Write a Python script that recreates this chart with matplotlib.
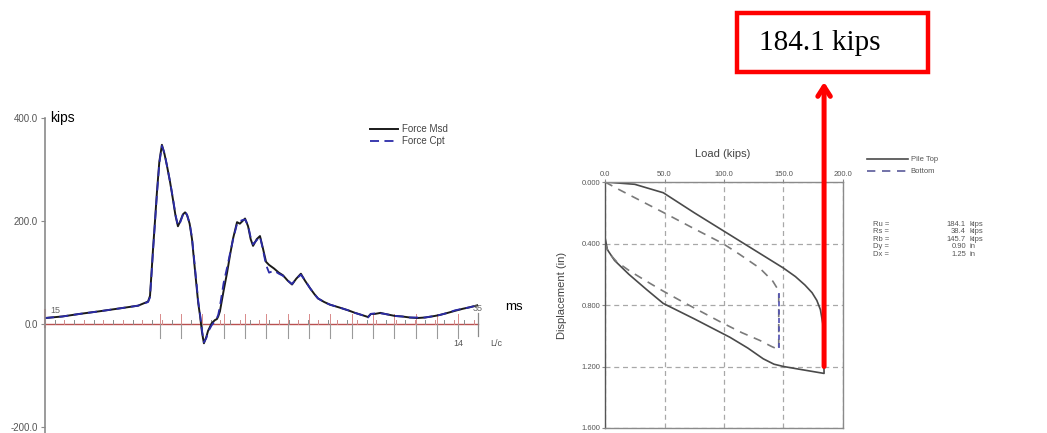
import matplotlib
matplotlib.use('Agg')
import matplotlib.pyplot as plt
from matplotlib.patches import Rectangle

W, H = 1047, 433

# --- force record (left) ---
time_ms = [15.0, 15.8, 16.6, 17.5, 18.5, 19.3, 19.76, 19.85, 19.92, 19.99, 20.08, 20.17,
           20.28, 20.40, 20.52, 20.64, 20.78, 20.91, 21.03, 21.14, 21.25, 21.37, 21.47, 21.56,
           21.68, 21.79, 21.95, 22.08, 22.16, 22.25, 22.34, 22.45, 22.53, 22.7, 22.85, 22.94,
           23.0, 23.08, 23.25, 23.41, 23.55, 23.68, 23.87, 24.0, 24.12, 24.24, 24.38, 24.5,
           24.61, 24.78, 24.93, 25.05, 25.21, 25.35, 25.58, 25.8, 25.99, 26.2, 26.41, 26.6,
           26.82, 27.0, 27.24, 27.45, 27.61, 27.9, 28.16, 28.63, 29.0, 29.32, 29.7, 29.92,
           30.05, 30.24, 30.5, 30.7, 31.17, 31.5, 31.86, 32.2, 32.55, 33.0, 33.24, 33.6,
           33.94, 34.3, 34.63, 35.0]
force_msd = [12, 15, 20, 25, 31, 36, 44, 55, 100, 146, 200, 256,
             315, 348, 330, 306, 275, 242, 210, 190, 200, 213, 217, 212,
             195, 165, 95, 40, 17, -15, -37, -25, -13, 2, 8, 10,
             15, 25, 65, 100, 135, 165, 198, 195, 200, 205, 190, 165,
             152, 165, 171, 150, 121, 115, 108, 100, 95, 85, 77, 88,
             98, 85, 70, 58, 50, 43, 38, 32, 27, 22, 17, 14,
             20, 20, 22, 20, 16, 15, 13, 12, 13, 16, 18, 22,
             26, 30, 33, 37]
force_cpt = [12, 15, 20, 25, 31, 36, 43, 52, 96, 142, 197, 252,
             312, 346, 332, 306, 276, 244, 212, 191, 198, 212, 219, 212,
             196, 168, 100, 44, 20, -12, -35, -27, -15, -2, 6, 12,
             18, 35, 80, 110, 138, 163, 195, 200, 202, 203, 192, 168,
             155, 163, 170, 148, 115, 100, 104, 98, 94, 85, 78, 88,
             96, 86, 70, 58, 50, 43, 38, 32, 27, 22, 17, 13,
             20, 21, 21, 20, 16, 15, 13, 13, 13, 16, 18, 22,
             27, 30, 33, 37]
impact_ms = 20.3      # first 2L/c mark
lc_ms = 0.985         # 2L/c spacing
n_lc = 14

# --- load / displacement (right) ---
top_load = [0, 25, 49, 75, 100, 125, 150, 160, 168, 174, 178, 181, 183, 183.6, 184.1,
            165, 150, 142, 133, 120, 105, 75, 49, 35, 20, 8, 2, 0]
top_disp = [0.0, 0.015, 0.07, 0.20, 0.32, 0.44, 0.56, 0.615, 0.67, 0.72, 0.77, 0.83, 0.92, 1.05, 1.245,
            1.22, 1.20, 1.185, 1.15, 1.08, 1.01, 0.89, 0.79, 0.70, 0.60, 0.51, 0.44, 0.36]
bot_load = [0, 12, 32, 52, 74, 99, 113, 130, 141, 144.6, 146, 146,
            140, 130, 115, 97, 80, 63, 49, 38, 21, 10, 3, 0, 0]
bot_disp = [0.0, 0.05, 0.13, 0.21, 0.30, 0.40, 0.47, 0.56, 0.645, 0.69, 0.72, 1.09,
            1.07, 1.03, 0.98, 0.91, 0.84, 0.77, 0.71, 0.66, 0.58, 0.52, 0.46, 0.40, 0.32]

ru_kips = 184.1
res_names = ['Ru =', 'Rs =', 'Rb =', 'Dy =', 'Dx =']
res_values = ['184.1', '38.4', '145.7', '0.90', '1.25']
res_units = ['kips', 'kips', 'kips', 'in', 'in']

plt.rcParams['font.family'] = ['Liberation Sans', 'DejaVu Sans']

def fx(px):
    return px / W

def fy(py):
    return 1 - py / H

fig = plt.figure(figsize=(W / 100, H / 100), dpi=100)

# ---------------- left: force vs time ----------------
ax1 = fig.add_axes([fx(45), 0, fx(478) - fx(45), fy(118)])
ax1.set_xlim(15, 35)
ax1.set_ylim(-211, 400)
for s in ['top', 'right', 'bottom']:
    ax1.spines[s].set_visible(False)
ax1.spines['left'].set_color('#8a8a8a')
ax1.spines['left'].set_linewidth(1.2)
ax1.set_xticks([])
ax1.set_yticks([400, 200, 0, -200])
ax1.set_yticklabels(['400.0', '200.0', '0.0', '-200.0'])
ax1.tick_params(axis='y', length=3, color='#8a8a8a', labelsize=7, labelcolor='#555555', pad=2)

# zero line and 2L/c marks
ax1.plot([15, 35], [0, 0], color='#b85050', lw=1.0, clip_on=False)
ax1.plot([15, 15], [-6, 28], color='#e89a9a', lw=1.5, clip_on=False)
t = 15.0
k = 0
while t < 35:
    ax1.plot([t, t], [0, 9], color='#d08a8a' if k % 2 == 0 else '#8a8a8a', lw=0.7)
    t += 0.45
    k += 1
for i in range(n_lc + 1):
    tx = impact_ms + i * lc_ms
    ax1.plot([tx, tx], [0, 20], color='#d88a8a', lw=0.7)
    ax1.plot([tx, tx], [0, -27], color='#9a9a9a', lw=0.8)
ax1.plot([35, 35], [-23, 21], color='#8a8a8a', lw=0.9, clip_on=False)

ax1.plot(time_ms, force_msd, color='#1a1a1a', lw=1.4, label='Force Msd')
ax1.plot(time_ms, force_cpt, color='#2b2ba8', lw=1.3, ls=(0, (5, 3)), label='Force Cpt')

ax1.text(15.25, 400, 'kips', fontsize=10, va='center', ha='left')
ax1.text(15.25, 27, '15', fontsize=6.5, color='#666666', va='center', ha='left')
ax1.text(35.0, 31, '35', fontsize=6.5, color='#666666', va='center', ha='center')
ax1.text(36.25, 34, 'ms', fontsize=9.5, va='center', ha='left', clip_on=False)
ax1.text(impact_ms + n_lc * lc_ms, -37, '14', fontsize=6.5, color='#555555', va='center', ha='center')
ax1.text(35.55, -37, 'L/c', fontsize=6.5, color='#555555', va='center', ha='left', clip_on=False)

ax1.legend(loc='upper left', bbox_to_anchor=(fx(370), fy(124)), bbox_transform=fig.transFigure,
           frameon=False, fontsize=7, handlelength=2.9, handletextpad=0.4,
           labelspacing=0.2, borderpad=0, borderaxespad=0, labelcolor='#444444')

# ---------------- right: load vs displacement ----------------
ax2 = fig.add_axes([fx(605), fy(428), fx(843) - fx(605), fy(182) - fy(428)])
ax2.set_xlim(0, 200)
ax2.set_ylim(1.6, 0)
for s in ax2.spines.values():
    s.set_color('#8a8a8a')
    s.set_linewidth(1.0)
ax2.spines['left'].set_color('#555555')
ax2.xaxis.tick_top()
ax2.set_xticks([0, 50, 100, 150, 200])
ax2.set_xticklabels(['0.0', '50.0', '100.0', '150.0', '200.0'])
ax2.set_yticks([0, 0.4, 0.8, 1.2, 1.6])
ax2.set_yticklabels(['0.000', '0.400', '0.800', '1.200', '1.600'])
ax2.tick_params(length=2, color='#8a8a8a', labelsize=5.5, labelcolor='#555555', pad=1)
ax2.grid(True, color='#a8a8a8', lw=0.9, ls=(0, (4, 3)))
ax2.set_xlabel('Load (kips)', fontsize=8, color='#444444')
ax2.xaxis.set_label_position('top')
ax2.xaxis.set_label_coords(0.496, 1.10)
ax2.set_ylabel('Displacement (in)', fontsize=8, color='#444444')
ax2.yaxis.set_label_coords(-0.16, 0.54)

ax2.plot(top_load, top_disp, color='#4a4a4a', lw=1.2, label='Pile Top')
ax2.plot(bot_load, bot_disp, color='#7a7a7a', lw=1.2, ls=(0, (5, 4)), label='Bottom')
ax2.plot(bot_load[10:12], bot_disp[10:12], color='#5050b0', lw=1.2, ls=(0, (3, 2)))
ax2.plot(bot_load[-2:], bot_disp[-2:], color='#5050b0', lw=1.2, ls=(0, (3, 2)))

leg = ax2.legend(loc='upper left', bbox_to_anchor=(fx(867), fy(156)), bbox_transform=fig.transFigure,
                 frameon=False, fontsize=5.5, handlelength=5.4, handletextpad=0.3,
                 labelspacing=0.6, borderpad=0, borderaxespad=0, labelcolor='#555555')
leg.get_lines()[1].set_color('#5a5a9a')

for i in range(len(res_names)):
    yy = fy(224 + i * 7.6)
    fig.text(fx(873), yy, res_names[i], fontsize=5.5, color='#555555', va='center', ha='left')
    fig.text(fx(966), yy, res_values[i], fontsize=5.5, color='#555555', va='center', ha='right')
    fig.text(fx(970), yy, res_units[i], fontsize=5.5, color='#555555', va='center', ha='left')

# ---------------- annotation ----------------
ax2.annotate('', xy=(ru_kips, fy(82)), xycoords=('data', 'figure fraction'),
             xytext=(ru_kips, 1.2), textcoords='data',
             arrowprops=dict(arrowstyle='->,head_length=0.7,head_width=0.45',
                             color='#ff0000', lw=3.6, shrinkA=0, shrinkB=0),
             annotation_clip=False)
fig.add_artist(Rectangle((fx(737), fy(72)), fx(928) - fx(737), fy(13) - fy(72),
                         transform=fig.transFigure, facecolor='white',
                         edgecolor='#ff0000', lw=3.2))
fig.text(fx(759), fy(43), '%.1f kips' % ru_kips, fontsize=21, family='Liberation Serif',
         va='center', ha='left')

fig.savefig('out.png', dpi=100)
